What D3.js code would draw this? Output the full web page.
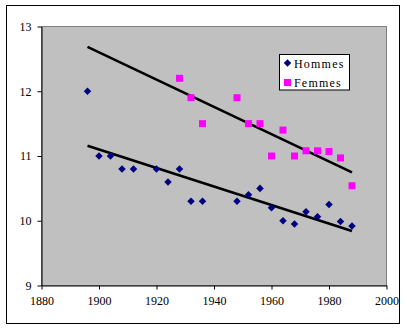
<!DOCTYPE html>
<html>
<head>
<meta charset="utf-8">
<script src="https://cdn.jsdelivr.net/npm/d3@7"></script>
<style>
  html, body { margin: 0; padding: 0; background: #fff; }
  svg { display: block; }
  text { font-family: "Liberation Serif", "Times New Roman", serif; }
</style>
</head>
<body>
<svg id="chart" width="407" height="331"></svg>
<script>
// Winning times (s) per Olympic year
const hommesYears = [1896, 1900, 1904, 1908, 1912, 1920, 1924, 1928, 1932, 1936, 1948, 1952, 1956, 1960, 1964, 1968, 1972, 1976, 1980, 1984, 1988];
const hommesTimes = [12.0, 11.0, 11.0, 10.8, 10.8, 10.8, 10.6, 10.8, 10.3, 10.3, 10.3, 10.4, 10.5, 10.2, 10.0, 9.95, 10.14, 10.06, 10.25, 9.99, 9.92];
const femmesYears = [1928, 1932, 1936, 1948, 1952, 1956, 1960, 1964, 1968, 1972, 1976, 1980, 1984, 1988];
const femmesTimes = [12.2, 11.9, 11.5, 11.9, 11.5, 11.5, 11.0, 11.4, 11.0, 11.08, 11.08, 11.07, 10.97, 10.54];
const xTicks = [1880, 1900, 1920, 1940, 1960, 1980, 2000];
const yTicks = [9, 10, 11, 12, 13];
const seriesNames = ["Hommes", "Femmes"];
const trendRange = [1896, 1988];

const svg = d3.select("#chart");
const plot = { left: 41.5, right: 386.5, top: 26.5, bottom: 285.5 };

const x = d3.scaleLinear().domain([1880, 2000]).range([plot.left, plot.right]);
const y = d3.scaleLinear().domain([9, 13]).range([plot.bottom, plot.top]);

// outer frame
svg.append("rect").attr("x", 6.5).attr("y", 5.5).attr("width", 393).attr("height", 318)
  .attr("fill", "#fff").attr("stroke", "#000").attr("stroke-width", 1);

// plot area
svg.append("rect").attr("x", plot.left).attr("y", plot.top)
  .attr("width", plot.right - plot.left).attr("height", plot.bottom - plot.top)
  .attr("fill", "#c0c0c0").attr("stroke", "#808080").attr("stroke-width", 1);

// axes
const xAxis = d3.axisBottom(x).tickValues(xTicks).tickFormat(d3.format("d")).tickSize(4).tickSizeOuter(0);
const yAxis = d3.axisLeft(y).tickValues(yTicks).tickFormat(d3.format("d")).tickSize(4).tickSizeOuter(0);

const gx = svg.append("g").attr("transform", `translate(0,${plot.bottom})`).call(xAxis);
const gy = svg.append("g").attr("transform", `translate(${plot.left},0)`).call(yAxis);
[gx, gy].forEach(g => {
  g.select(".domain").attr("stroke", "#000");
  g.selectAll(".tick line").attr("stroke", "#000");
  g.selectAll("text").attr("fill", "#000").style("font-size", "12px")
    .style("font-family", '"Liberation Serif", "Times New Roman", serif');
});
gx.selectAll("text").attr("dy", "0.71em").attr("y", 11);
gy.selectAll("text").attr("x", -10);

// least-squares trend line
function fit(xs, ys) {
  const mx = d3.mean(xs), my = d3.mean(ys);
  let sxy = 0, sxx = 0;
  xs.forEach((v, i) => { sxy += (v - mx) * (ys[i] - my); sxx += (v - mx) * (v - mx); });
  const b = sxy / sxx;
  return t => my + b * (t - mx);
}

const line = d3.line().x(d => x(d[0])).y(d => y(d[1]));
[[femmesYears, femmesTimes], [hommesYears, hommesTimes]].forEach(([xs, ys]) => {
  const f = fit(xs, ys);
  svg.append("path")
    .attr("d", line(trendRange.map(t => [t, f(t)])))
    .attr("fill", "none").attr("stroke", "#000").attr("stroke-width", 2.6);
});

// markers
const diamond = d3.symbol().type(d3.symbolDiamond2).size(36);
svg.append("g").selectAll("path")
  .data(hommesYears.map((t, i) => [t, hommesTimes[i]]))
  .join("path")
  .attr("d", diamond)
  .attr("transform", d => `translate(${x(d[0])},${y(d[1])})`)
  .attr("fill", "#000080");

svg.append("g").selectAll("rect")
  .data(femmesYears.map((t, i) => [t, femmesTimes[i]]))
  .join("rect")
  .attr("x", d => x(d[0]) - 3.5).attr("y", d => y(d[1]) - 3.5)
  .attr("width", 7).attr("height", 7)
  .attr("fill", "#ff00ff");

// legend
const lg = svg.append("g");
lg.append("rect").attr("x", 279.5).attr("y", 54.5).attr("width", 70).attr("height", 35.5)
  .attr("fill", "#fff").attr("stroke", "#000").attr("stroke-width", 1);
lg.append("path").attr("d", diamond).attr("transform", "translate(287.5,63)").attr("fill", "#000080");
lg.append("rect").attr("x", 284).attr("y", 79).attr("width", 7).attr("height", 7).attr("fill", "#ff00ff");
seriesNames.forEach((name, i) => {
  lg.append("text").attr("x", 294).attr("y", 67.5 + i * 19)
    .style("font-size", "12px").style("letter-spacing", "1.2px")
    .attr("fill", "#000").text(name);
});
</script>
</body>
</html>
